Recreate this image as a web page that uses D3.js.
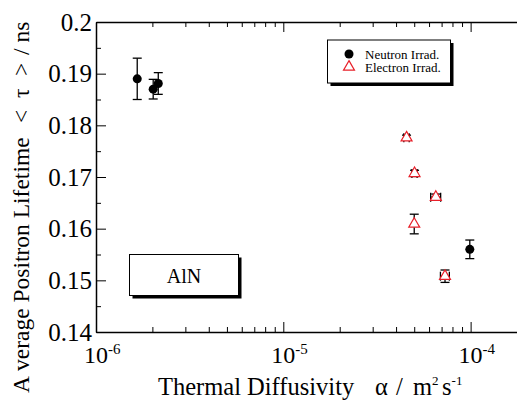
<!DOCTYPE html>
<html>
<head>
<meta charset="utf-8">
<script src="https://cdn.jsdelivr.net/npm/d3@7.9.0/dist/d3.min.js"></script>
<style>
  body { margin: 0; background: #fff; }
  svg { display: block; }
  svg text { font-family: "Liberation Serif", "DejaVu Serif", serif; fill: #000; }
</style>
</head>
<body>
<svg width="517" height="403"></svg>
<script>
// Neutron irradiated (black circles)
const neutronAlpha = [1.66e-6, 2.02e-6, 2.15e-6, 9.9e-5];
const neutronTau   = [0.189, 0.187, 0.1881, 0.156];
const neutronErr   = [0.004, 0.0019, 0.0021, 0.0018];

// Electron irradiated (red open triangles)
const electronAlpha = [4.55e-5, 5.02e-5, 6.52e-5, 5.0e-5, 7.3e-5];
const electronTau   = [0.1776, 0.1707, 0.1661, 0.1609, 0.1508];
const electronErr   = [0.0005, 0.0006, 0.0006, 0.0019, 0.0012];
const electronXErr  = [1.5e-6, 1.6e-6, 4.0e-6, 0, 4.0e-6];

const yMajor = [0.14, 0.15, 0.16, 0.17, 0.18, 0.19, 0.2];
const yMinor = [0.145, 0.155, 0.165, 0.175, 0.185, 0.195];
const xMajor = [1e-6, 1e-5, 1e-4];
const xExp   = ["-6", "-5", "-4"];
const xMinor = [2e-6, 3e-6, 4e-6, 5e-6, 6e-6, 7e-6, 8e-6, 9e-6,
                2e-5, 3e-5, 4e-5, 5e-5, 6e-5, 7e-5, 8e-5, 9e-5, 2e-4];

const legendLabels = ["Neutron Irrad.", "Electron Irrad."];

const svg = d3.select("svg");
const margin = {left: 96, top: 22, right: 527, bottom: 332};

const x = d3.scaleLog().domain([1e-6, 2e-4]).range([margin.left, margin.right]);
const y = d3.scaleLinear().domain([0.14, 0.2]).range([margin.bottom, margin.top]);

// y axis left (ticks inward)
svg.append("g").attr("transform", `translate(${margin.left},0)`)
  .call(d3.axisLeft(y).tickValues(yMajor).tickSize(-10).tickSizeOuter(0).tickPadding(4)
        .tickFormat(d => d === 0.2 ? "0.2" : d3.format(".2f")(d)))
  .call(g => g.selectAll("text").style("font-size", "25px"));
svg.append("g").attr("transform", `translate(${margin.left},0)`)
  .call(d3.axisLeft(y).tickValues(yMinor).tickSize(-5).tickFormat(""))
  .call(g => g.select(".domain").remove());

// right axis (falls outside the window)
svg.append("g").attr("transform", `translate(${margin.right},0)`)
  .call(d3.axisRight(y).tickValues(yMajor).tickSize(-10).tickSizeOuter(0).tickFormat(""));

// x axis bottom
svg.append("g").attr("transform", `translate(0,${margin.bottom})`)
  .call(d3.axisBottom(x).tickValues(xMajor).tickSize(-10).tickSizeOuter(0).tickFormat(""));
svg.append("g").attr("transform", `translate(0,${margin.bottom})`)
  .call(d3.axisBottom(x).tickValues(xMinor).tickSize(-5).tickFormat(""))
  .call(g => g.select(".domain").remove());

// x axis top
svg.append("g").attr("transform", `translate(0,${margin.top})`)
  .call(d3.axisTop(x).tickValues(xMajor).tickSize(-10).tickSizeOuter(0).tickFormat(""));
svg.append("g").attr("transform", `translate(0,${margin.top})`)
  .call(d3.axisTop(x).tickValues(xMinor).tickSize(-5).tickFormat(""))
  .call(g => g.select(".domain").remove());

svg.selectAll(".domain").attr("stroke-width", 1.5).attr("stroke", "#000");
svg.selectAll(".tick line").attr("stroke", "#000").attr("stroke-width", 1);

// x tick labels 10^n
xMajor.forEach((v, i) => {
  const t = svg.append("text")
    .attr("x", x(v) - 12).attr("y", 363)
    .style("font-size", "24px");
  t.append("tspan").text("10");
  t.append("tspan").attr("dy", -9).style("font-size", "15px").text(xExp[i]);
});

// y axis title
const yt = svg.append("text")
  .attr("transform", "translate(29,393) rotate(-90)")
  .style("font-size", "23.5px");
yt.append("tspan").attr("x", 0).text("A");
yt.append("tspan").attr("x", 22).text("verage Positron Lifetime");
yt.append("tspan").attr("x", 270).text("<");
yt.append("tspan").attr("x", 295).text("\u03c4");
yt.append("tspan").attr("x", 317).text(">");
yt.append("tspan").attr("x", 338).text("/ ns");

// x axis title
const xt = svg.append("text").attr("y", 395).style("font-size", "24.5px");
xt.append("tspan").attr("x", 158).text("Thermal Diffusivity");
xt.append("tspan").attr("x", 375).text("\u03b1");
xt.append("tspan").attr("x", 396).text("/");
xt.append("tspan").attr("x", 413).text("m");
xt.append("tspan").attr("dy", -10).style("font-size", "13px").text("2");
xt.append("tspan").attr("x", 442).attr("dy", 10).text("s");
xt.append("tspan").attr("dy", -10).style("font-size", "13px").text("-1");

// error bars
const cap = 4.5;
function errBars(alpha, tau, err, xerr) {
  const g = svg.append("g").attr("stroke", "#000").attr("stroke-width", 1.3).attr("fill", "none");
  alpha.forEach((a, i) => {
    const cx = x(a), y0 = y(tau[i] - err[i]), y1 = y(tau[i] + err[i]);
    g.append("line").attr("x1", cx).attr("x2", cx).attr("y1", y0).attr("y2", y1);
    g.append("line").attr("x1", cx - cap).attr("x2", cx + cap).attr("y1", y0).attr("y2", y0);
    g.append("line").attr("x1", cx - cap).attr("x2", cx + cap).attr("y1", y1).attr("y2", y1);
    if (xerr && xerr[i] > 0) {
      const cy = y(tau[i]), x0 = x(a - xerr[i]), x1 = x(a + xerr[i]);
      g.append("line").attr("x1", x0).attr("x2", x1).attr("y1", cy).attr("y2", cy);
      g.append("line").attr("x1", x0).attr("x2", x0).attr("y1", cy - cap).attr("y2", cy + cap);
      g.append("line").attr("x1", x1).attr("x2", x1).attr("y1", cy - cap).attr("y2", cy + cap);
    }
  });
}
errBars(neutronAlpha, neutronTau, neutronErr);
errBars(electronAlpha, electronTau, electronErr, electronXErr);

const circle = d3.symbol().type(d3.symbolCircle).size(64);
const tri = d3.symbol().type(d3.symbolTriangle).size(52);

svg.append("g").selectAll("path").data(neutronAlpha).join("path")
  .attr("d", circle)
  .attr("transform", (d, i) => `translate(${x(d)},${y(neutronTau[i])})`)
  .attr("fill", "#000");

svg.append("g").selectAll("path").data(electronAlpha).join("path")
  .attr("d", tri)
  .attr("transform", (d, i) => `translate(${x(d)},${y(electronTau[i])})`)
  .attr("fill", "#fff").attr("stroke", "#e8202a").attr("stroke-width", 1.2);

// legend box with shadow
const lg = svg.append("g");
lg.append("rect").attr("x", 330.5).attr("y", 43).attr("width", 123).attr("height", 43).attr("fill", "#000");
lg.append("rect").attr("x", 327.5).attr("y", 40).attr("width", 123).attr("height", 43)
  .attr("fill", "#fff").attr("stroke", "#000").attr("stroke-width", 1);
lg.append("path").attr("d", circle).attr("transform", "translate(349,54)").attr("fill", "#000");
lg.append("path").attr("d", tri).attr("transform", "translate(349,67)")
  .attr("fill", "#fff").attr("stroke", "#e8202a").attr("stroke-width", 1.2);
legendLabels.forEach((t, i) => {
  lg.append("text").attr("x", 365).attr("y", 58.5 + i * 13.5).style("font-size", "13px").text(t);
});

// AlN label box
const ab = svg.append("g");
ab.append("rect").attr("x", 132.5).attr("y", 257.5).attr("width", 109).attr("height", 41).attr("fill", "#000");
ab.append("rect").attr("x", 129.5).attr("y", 254.5).attr("width", 109).attr("height", 41)
  .attr("fill", "#fff").attr("stroke", "#000").attr("stroke-width", 1);
ab.append("text").attr("x", 184).attr("y", 282.5).attr("text-anchor", "middle")
  .style("font-size", "20px").text("AlN");
</script>
</body>
</html>
